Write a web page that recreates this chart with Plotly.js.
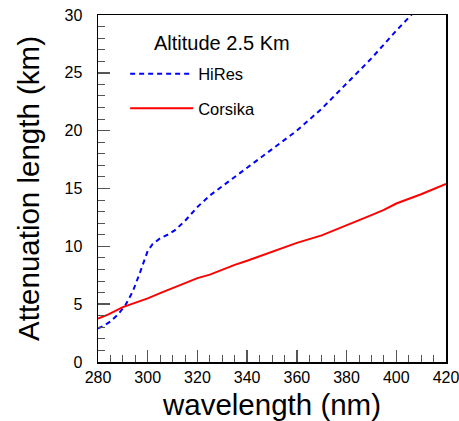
<!DOCTYPE html>
<html>
<head>
<meta charset="utf-8">
<script src="https://cdn.plot.ly/plotly-3.0.1.min.js"></script>
<style>html,body{margin:0;padding:0;background:#fff;}#chart{width:459px;height:421px;}</style>
</head>
<body>
<div id="chart"></div>
<script>
const hiresX = [280, 282, 285, 288, 291, 294, 297, 300, 302, 305, 308, 311, 315, 320, 325, 330, 340, 350, 360, 370, 380, 390, 400, 407, 410];
const hiresY = [2.9, 3.1, 3.5, 4.1, 4.9, 6.1, 7.8, 9.6, 10.2, 10.7, 11.0, 11.4, 12.2, 13.4, 14.4, 15.2, 16.75, 18.4, 20.0, 21.9, 24.1, 26.25, 28.65, 30.2, 30.9];
const corsikaX = [280, 284, 290, 295, 300, 305, 310, 315, 320, 325, 330, 335, 340, 350, 360, 370, 380, 390, 395, 400, 410, 420];
const corsikaY = [3.75, 4.1, 4.75, 5.1, 5.5, 5.95, 6.4, 6.8, 7.25, 7.55, 8.0, 8.4, 8.75, 9.5, 10.3, 10.95, 11.8, 12.7, 13.15, 13.7, 14.5, 15.4];
const legendTitle = "Altitude 2.5 Km";
const xTitle = "wavelength (nm)";
const yTitle = "Attenuation length (km)";

const font = "Liberation Sans, Arial, sans-serif";
const traces = [
  {x: hiresX, y: hiresY, name: "HiRes", type: "scatter", mode: "lines",
   line: {color: "#0000ff", width: 2, dash: "5px,4px"}, legendgroup: "a"},
  {x: corsikaX, y: corsikaY, name: "Corsika", type: "scatter", mode: "lines",
   line: {color: "#ff0000", width: 2}, legendgroup: "b"}
];
const axisCommon = {
  showgrid: false, zeroline: false, showline: true, mirror: true,
  linecolor: "#000", linewidth: 1.5, ticks: "inside", ticklen: 12,
  tickcolor: "#555", tickwidth: 1.5, ticklabeloverflow: "allow",
  tickfont: {family: font, size: 16, color: "#000"}
};
const layout = {
  width: 459, height: 421,
  margin: {l: 98, r: 13, t: 15, b: 59},
  paper_bgcolor: "#fff", plot_bgcolor: "#fff",
  font: {family: font, color: "#000"},
  xaxis: Object.assign({}, axisCommon, {
    range: [280, 420], dtick: 20, tick0: 280, ticklabelstandoff: 0,
    minor: {ticks: "inside", dtick: 5, ticklen: 7, tickcolor: "#555", tickwidth: 1},
    title: {text: xTitle, font: {family: font, size: 29.5}, standoff: 9}
  }),
  yaxis: Object.assign({}, axisCommon, {
    range: [0, 30], dtick: 5, tick0: 0, ticklabelstandoff: 11,
    minor: {ticks: "inside", dtick: 1, ticklen: 7, tickcolor: "#555", tickwidth: 1},
    title: {text: yTitle, font: {family: font, size: 29.5}, standoff: 16}
  }),
  showlegend: true,
  legend: {
    x: 0.078, y: 0.88, xanchor: "left", yanchor: "top",
    bgcolor: "rgba(0,0,0,0)", font: {family: font, size: 16.5},
    tracegroupgap: 10, itemwidth: 63
  },
  annotations: [{
    text: legendTitle, xref: "paper", yref: "paper", x: 0.155, y: 0.919,
    xanchor: "left", yanchor: "middle", showarrow: false,
    font: {family: font, size: 20, color: "#000"}
  }]
};
Plotly.newPlot("chart", traces, layout, {displayModeBar: false, staticPlot: true});
</script>
</body>
</html>
